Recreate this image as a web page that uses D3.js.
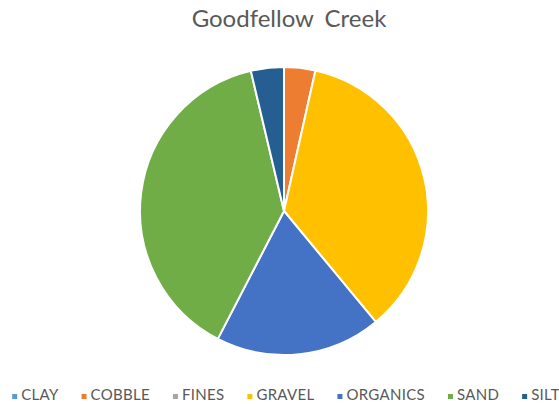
<!DOCTYPE html>
<html>
<head>
<meta charset="utf-8">
<script src="https://cdn.jsdelivr.net/npm/d3@7"></script>
<style>
  html, body { margin: 0; padding: 0; background: #ffffff; }
  svg { display: block; }
</style>
</head>
<body>
<svg id="chart" width="559" height="404"></svg>
<script>
// Substrate composition, Goodfellow Creek (percent of samples)
const chartTitle = "Goodfellow Creek";
const categories = ["CLAY", "COBBLE", "FINES", "GRAVEL", "ORGANICS", "SAND", "SILT"];
const shares = [0, 3.5, 0, 35.5, 18.6, 38.7, 3.7];
const palette = ["#5B9BD5", "#ED7D31", "#A5A5A5", "#FFC000", "#4472C4", "#70AD47", "#255E91"];

const W = 559, H = 404;
const svg = d3.select("#chart");
const textColor = "#595959";
const fontFamily = "Lato, 'Open Sans', sans-serif";

// Title
svg.append("text")
  .attr("x", 289)
  .attr("y", 27)
  .attr("text-anchor", "middle")
  .attr("font-family", fontFamily)
  .attr("font-size", 24)
  .attr("word-spacing", 5)
  .attr("fill", textColor)
  .text(chartTitle);

// Pie
const rows = categories.map((c, i) => ({ name: c, value: shares[i], color: palette[i] }));
const cx = 284, cy = 211, radius = 144;
const pie = d3.pie().sort(null).value(d => d.value);
const arc = d3.arc().innerRadius(0).outerRadius(radius);

svg.append("g")
  .attr("transform", `translate(${cx},${cy})`)
  .selectAll("path")
  .data(pie(rows).filter(d => d.data.value > 0))
  .join("path")
  .attr("d", arc)
  .attr("fill", d => d.data.color)
  .attr("stroke", "#ffffff")
  .attr("stroke-width", 2)
  .attr("stroke-linejoin", "round");

// Legend: marker + label per category, laid out in one centred row
const legend = svg.append("g").attr("class", "legend");
const items = legend.selectAll("g.item")
  .data(rows)
  .join("g")
  .attr("class", "item");

items.append("rect")
  .attr("width", 5)
  .attr("height", 5)
  .attr("y", -6)
  .attr("fill", d => d.color);

items.append("text")
  .attr("x", 9)
  .attr("y", 0)
  .attr("font-family", fontFamily)
  .attr("font-size", 15)
  .attr("letter-spacing", 0.3)
  .attr("fill", textColor)
  .text(d => d.name);

const itemGap = 23;
const widths = [];
items.each(function () {
  widths.push(9 + d3.select(this).select("text").node().getComputedTextLength());
});
const total = d3.sum(widths) + itemGap * (widths.length - 1);
let xPos = 286 - total / 2;
items.attr("transform", (d, i) => {
  const t = `translate(${xPos},400)`;
  xPos += widths[i] + itemGap;
  return t;
});
</script>
</body>
</html>
